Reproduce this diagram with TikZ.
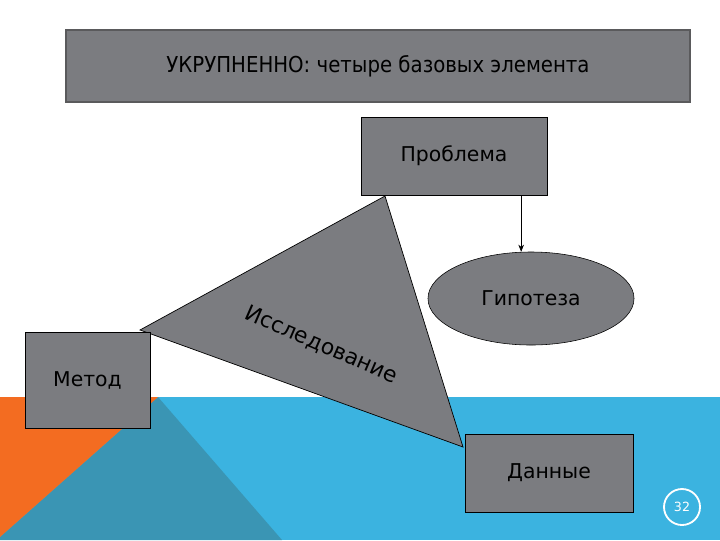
\documentclass[tikz,border=0pt]{standalone}
\usepackage{fontspec}
\setmainfont{DejaVu Sans}
\newfontfamily\titlefont{DejaVu Sans Condensed}
\usetikzlibrary{shapes.geometric,arrows.meta,positioning}
\definecolor{slidegray}{RGB}{123,124,128}
\definecolor{slideblue}{RGB}{59,179,224}
\definecolor{slideteal}{RGB}{58,149,180}
\definecolor{slideorange}{RGB}{243,108,33}
\definecolor{titleframe}{RGB}{90,90,92}

\begin{document}
\begin{tikzpicture}[
  x=0.025cm, y=-0.025cm,
  font=\fontsize{14.5}{17}\selectfont,
  box/.style={draw=black, fill=slidegray, inner sep=0pt},
  arr/.style={-{Stealth[length=5pt,width=4pt]}},
]
\useasboundingbox (0,0) rectangle (720,540);
% slide background
\fill[slideblue] (0,397) rectangle (720,540);
\fill[slideteal] (158,397) -- (282,540) -- (0,540) -- (0,537) -- cycle;
\fill[slideorange] (0,397) -- (158,397) -- (0,537) -- cycle;

\node[box, draw=titleframe, line width=1pt, minimum width=15.6cm, minimum height=1.8cm,
  font=\titlefont\fontsize{15.6}{18}\selectfont] (title) at (378,66) {УКРУПНЕННО: четыре базовых элемента};

\fill[slidegray, draw=black, line width=0.5pt] (385,196) -- (140,330) -- (463,447) -- cycle;
\node[rotate=-23.5, font=\fontsize{15.5}{18}\selectfont] (study) at (321,345) {Исследование};

\node[box, minimum width=4.65cm, minimum height=1.95cm] (prob) at (454,156) {Проблема};
\node[box, ellipse, minimum width=5.15cm, minimum height=2.325cm] (hyp) at (531,298.5) {Гипотеза};
\node[box, minimum width=3.125cm, minimum height=2.4cm] (method) at (87.5,380) {Метод};
\node[box, minimum width=4.2cm, minimum height=1.95cm] (data) at (549,473) {Данные};

\draw[arr] ([xshift=-7pt]prob.south -| hyp.north) -- ([xshift=-7pt]hyp.north);

% page number
\node[circle, draw=white, line width=1.3pt, minimum size=0.9cm, text=white,
  font=\fontsize{9}{10}\selectfont] (page) at (682,507) {32};
\end{tikzpicture}
\end{document}
